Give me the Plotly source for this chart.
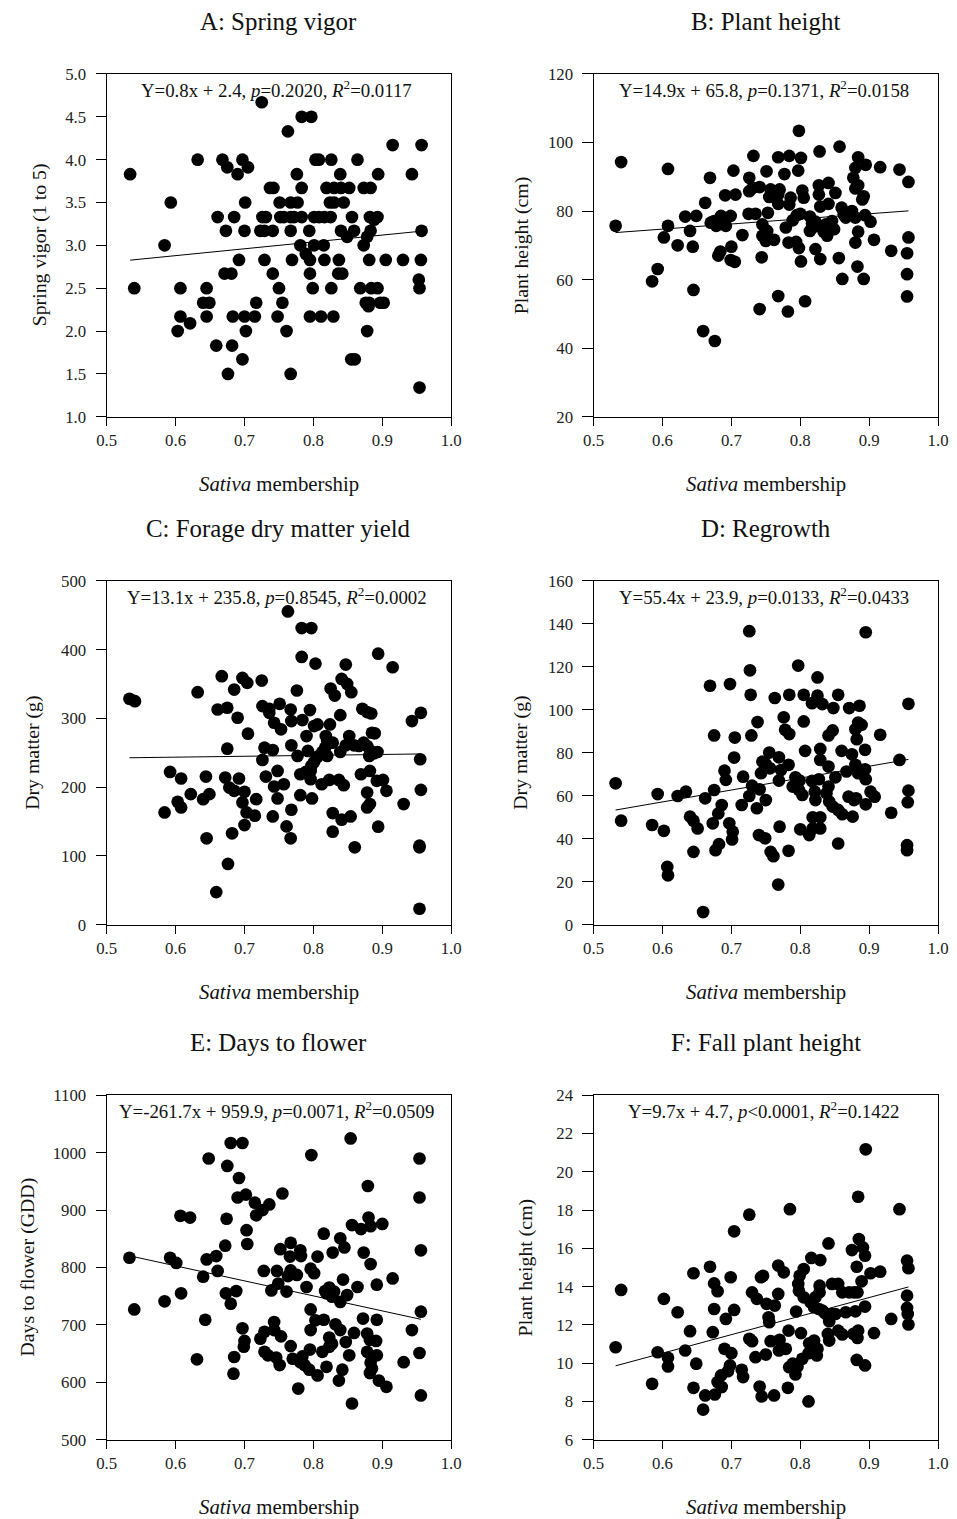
import plotly.graph_objects as go

W, H = 957, 1519
# The page is shown with an 8px body margin and the captured page is fitted to W x H.
PAGE_MARGIN = 8
SX = W / (W + 2 * PAGE_MARGIN)
SY = H / (H + 2 * PAGE_MARGIN)
FW, FH = W + PAGE_MARGIN, H + PAGE_MARGIN
SC = 1 / SX  # size compensation for fonts / markers

# ---------------- data ----------------
spring_vigor = [
    (0.725,4.67),(0.783,4.50),(0.797,4.50),(0.763,4.33),(0.915,4.17),(0.957,4.17),
    (0.632,4.00),(0.668,4.00),(0.697,4.00),(0.803,4.00),(0.808,4.00),(0.826,4.00),(0.864,4.00),
    (0.675,3.91),(0.705,3.91),
    (0.534,3.83),(0.690,3.83),(0.776,3.83),(0.839,3.83),(0.894,3.83),(0.943,3.83),
    (0.737,3.67),(0.742,3.67),(0.783,3.67),(0.819,3.67),(0.830,3.67),(0.840,3.67),(0.852,3.67),(0.873,3.67),(0.883,3.67),
    (0.593,3.50),(0.701,3.50),(0.751,3.50),(0.767,3.50),(0.777,3.50),(0.824,3.50),(0.830,3.50),(0.844,3.50),
    (0.661,3.33),(0.685,3.33),(0.726,3.33),(0.731,3.33),(0.752,3.33),(0.757,3.33),(0.767,3.33),(0.772,3.33),
    (0.783,3.33),(0.801,3.33),(0.808,3.33),(0.816,3.33),(0.825,3.33),(0.856,3.33),(0.882,3.33),(0.893,3.33),
    (0.888,3.30),
    (0.673,3.17),(0.700,3.17),(0.723,3.17),(0.729,3.17),(0.741,3.17),(0.767,3.17),(0.794,3.17),(0.840,3.17),
    (0.859,3.17),(0.883,3.17),(0.957,3.17),
    (0.849,3.10),(0.878,3.10),
    (0.584,3.00),(0.781,3.00),(0.801,3.00),(0.815,3.00),(0.873,3.00),
    (0.789,2.90),
    (0.692,2.83),(0.729,2.83),(0.769,2.83),(0.795,2.83),(0.816,2.83),(0.837,2.83),(0.881,2.83),(0.905,2.83),(0.930,2.83),(0.956,2.83),
    (0.671,2.67),(0.681,2.67),(0.741,2.67),(0.795,2.67),(0.836,2.67),(0.842,2.67),
    (0.953,2.60),
    (0.540,2.50),(0.607,2.50),(0.645,2.50),(0.750,2.50),(0.799,2.50),(0.826,2.50),(0.868,2.50),(0.884,2.50),(0.893,2.50),(0.954,2.50),
    (0.640,2.33),(0.649,2.33),(0.717,2.33),(0.755,2.33),(0.876,2.33),(0.881,2.33),(0.897,2.33),(0.902,2.33),
    (0.880,2.29),
    (0.607,2.17),(0.645,2.17),(0.683,2.17),(0.700,2.17),(0.715,2.17),(0.748,2.17),(0.795,2.17),(0.811,2.17),(0.829,2.17),
    (0.621,2.09),
    (0.603,2.00),(0.702,2.00),(0.761,2.00),(0.878,2.00),
    (0.659,1.83),(0.682,1.83),
    (0.697,1.67),(0.855,1.67),(0.860,1.67),
    (0.676,1.50),(0.767,1.50),
    (0.954,1.34),
]

plant_height = [
    (0.798,103.4),(0.540,94.3),(0.608,92.3),(0.732,96.1),(0.768,95.7),(0.784,96.1),(0.801,95.5),
    (0.828,97.4),(0.857,98.8),(0.884,95.7),(0.895,93.5),(0.916,92.8),(0.944,92.1),(0.957,88.5),
    (0.703,91.8),(0.751,91.6),(0.777,90.8),(0.797,91.8),(0.726,89.7),(0.669,89.7),(0.877,89.7),(0.880,92.6),
    (0.827,87.5),(0.841,88.2),(0.851,85.3),(0.884,87.5),(0.880,86.6),(0.892,84.3),(0.890,83.4),
    (0.726,85.8),(0.731,86.8),(0.741,87.0),(0.757,86.3),(0.770,86.3),(0.768,84.8),(0.755,84.1),(0.768,82.1),
    (0.786,83.9),(0.784,81.9),(0.803,86.0),(0.805,83.9),(0.827,84.8),(0.829,81.3),(0.841,82.1),
    (0.691,84.6),(0.706,84.8),(0.662,82.4),(0.633,78.4),(0.649,78.6),(0.532,75.7),(0.608,75.7),
    (0.640,74.2),(0.602,72.3),(0.622,70.0),(0.644,69.6),
    (0.675,77.1),(0.678,75.7),(0.685,78.6),(0.692,75.7),(0.699,78.6),(0.670,76.6),(0.681,76.6),
    (0.725,79.2),(0.735,79.2),(0.753,79.5),(0.716,73.0),
    (0.745,76.1),(0.752,74.2),(0.745,72.8),(0.750,71.3),(0.762,71.6),(0.779,75.2),(0.783,70.8),(0.794,71.0),(0.798,69.2),
    (0.789,77.3),(0.795,78.8),(0.800,79.2),(0.814,78.4),(0.817,76.4),(0.818,75.2),(0.814,74.2),
    (0.822,76.9),(0.829,75.5),(0.837,76.1),(0.834,74.0),(0.839,72.8),(0.846,77.1),(0.849,74.7),
    (0.860,81.0),(0.863,79.0),(0.872,79.2),(0.866,78.1),(0.875,80.0),(0.880,78.1),(0.894,78.8),(0.902,76.9),
    (0.884,74.0),(0.880,70.8),(0.907,71.6),(0.932,68.4),
    (0.957,72.3),(0.955,67.7),(0.955,61.6),(0.955,55.1),
    (0.700,69.6),(0.699,65.7),(0.705,65.2),(0.684,68.2),(0.681,67.0),(0.744,66.5),
    (0.822,68.9),(0.829,66.0),(0.801,65.3),(0.856,66.3),(0.861,60.2),(0.892,60.2),(0.883,63.8),
    (0.593,63.1),(0.585,59.5),(0.645,57.0),
    (0.768,55.2),(0.807,53.7),(0.741,51.4),(0.782,50.7),(0.659,45.0),(0.676,42.1),
]

forage_dm = [
    (0.763,455.6),(0.783,431.4),(0.797,431.4),(0.783,389.4),(0.803,379.7),(0.894,394.2),(0.915,374.4),
    (0.847,378.3),(0.841,357.5),(0.849,350.2),(0.855,338.2),(0.825,343.5),(0.831,333.3),
    (0.533,328.5),(0.541,325.1),(0.632,338.2),(0.667,361.4),(0.697,358.9),(0.704,351.7),(0.685,342.0),
    (0.725,355.1),(0.776,340.6),(0.661,313.0),(0.675,315.5),(0.690,301.0),(0.705,277.8),
    (0.726,317.9),(0.736,314.0),(0.736,308.2),(0.751,321.3),(0.767,313.0),(0.795,312.1),
    (0.743,293.7),(0.753,284.1),(0.768,296.1),(0.784,297.6),(0.801,288.9),(0.806,291.3),(0.790,274.4),
    (0.824,291.3),(0.839,304.8),(0.871,314.0),(0.878,309.2),(0.884,307.2),(0.852,274.4),(0.885,279.2),(0.889,278.3),
    (0.943,296.1),(0.956,308.2),
    (0.675,256.0),(0.729,257.5),(0.741,254.1),(0.726,239.6),(0.768,260.9),(0.777,245.4),(0.792,252.7),
    (0.818,274.4),(0.820,267.1),(0.828,264.7),(0.817,257.5),(0.813,251.2),(0.820,245.4),
    (0.806,244.4),(0.801,236.7),(0.797,230.9),(0.796,223.7),
    (0.839,251.2),(0.847,260.9),(0.859,260.9),(0.866,259.9),(0.873,264.7),(0.878,259.9),(0.883,252.7),
    (0.888,249.3),(0.893,251.2),(0.881,245.4),(0.955,240.6),
    (0.592,222.2),(0.608,212.6),(0.644,215.5),(0.672,214.0),(0.692,212.6),(0.731,215.5),(0.748,223.7),
    (0.781,218.8),(0.789,222.2),(0.796,211.6),(0.812,204.3),(0.823,210.6),(0.837,210.6),(0.844,202.9),
    (0.869,218.8),(0.882,223.7),(0.892,209.2),(0.901,210.6),(0.906,194.7),(0.956,196.1),
    (0.622,189.9),(0.603,178.8),(0.608,170.5),(0.584,163.3),(0.640,182.6),(0.649,189.9),
    (0.678,199.5),(0.685,194.7),(0.700,193.2),(0.697,177.8),(0.703,163.3),(0.715,158.5),(0.717,182.6),
    (0.743,201.0),(0.757,204.3),(0.748,183.6),(0.781,188.4),(0.798,183.6),(0.768,167.2),(0.741,157.5),
    (0.878,192.2),(0.878,170.5),(0.882,175.4),(0.931,175.4),(0.828,162.3),(0.841,152.7),(0.854,157.5),
    (0.700,144.9),(0.761,143.0),(0.682,132.9),(0.645,125.6),(0.767,125.6),(0.828,135.3),(0.894,142.5),
    (0.860,112.6),(0.954,115.0),(0.954,112.6),(0.676,88.4),(0.659,47.4),(0.954,23.2),
]

regrowth = [
    (0.726,136.6),(0.895,136.1),(0.727,118.4),(0.797,120.6),(0.669,111.2),(0.698,112.0),(0.728,107.0),
    (0.763,105.5),(0.784,107.0),(0.805,107.0),(0.825,115.1),(0.825,106.6),(0.817,103.1),(0.832,102.7),
    (0.855,107.0),(0.848,100.8),(0.871,100.8),(0.886,101.9),(0.957,102.8),
    (0.776,96.5),(0.738,94.3),(0.805,94.6),(0.778,90.7),(0.784,88.7),
    (0.884,94.1),(0.889,93.0),(0.880,91.0),(0.882,86.3),(0.841,88.1),(0.847,90.4),(0.916,88.4),
    (0.675,88.1),(0.729,88.1),(0.705,87.1),(0.829,81.8),(0.807,80.9),(0.860,80.9),(0.875,79.3),(0.894,81.4),
    (0.704,77.8),(0.755,80.1),(0.745,75.9),(0.750,74.7),(0.756,72.8),(0.743,70.5),
    (0.769,77.9),(0.772,72.0),(0.783,74.4),(0.769,67.1),(0.829,76.7),(0.841,73.6),
    (0.867,71.3),(0.880,74.4),(0.883,72.0),(0.894,72.3),(0.895,67.7),(0.884,70.5),(0.944,76.7),
    (0.690,71.7),(0.692,67.4),(0.717,68.9),(0.730,64.7),(0.741,63.0),(0.726,59.9),
    (0.793,68.6),(0.799,67.1),(0.789,64.3),(0.798,62.7),(0.803,60.4),(0.817,66.9),(0.827,67.7),
    (0.821,61.9),(0.822,58.0),(0.851,68.6),(0.841,64.3),(0.838,61.2),(0.842,57.3),(0.847,55.0),(0.855,53.4),
    (0.861,51.4),(0.870,59.6),(0.878,58.0),(0.881,58.8),(0.876,50.3),(0.895,56.0),(0.902,61.9),(0.908,59.6),
    (0.932,52.1),(0.957,62.4),(0.956,57.0),
    (0.532,65.8),(0.593,60.8),(0.622,59.9),(0.634,61.9),(0.662,58.8),(0.675,62.7),(0.715,55.7),
    (0.686,55.7),(0.681,51.8),(0.673,47.2),(0.697,47.2),(0.702,43.3),(0.701,39.7),(0.750,58.0),(0.737,54.2),
    (0.640,50.3),(0.645,48.4),(0.651,44.8),(0.540,48.4),(0.585,46.4),(0.602,43.7),(0.770,45.6),
    (0.800,44.4),(0.813,41.7),(0.818,44.8),(0.829,44.8),(0.818,50.0),(0.829,50.0),
    (0.740,41.7),(0.749,40.2),(0.682,37.5),(0.677,34.7),(0.645,33.9),(0.757,33.9),(0.761,31.9),(0.783,34.4),
    (0.855,37.8),(0.955,37.0),(0.955,34.7),(0.607,26.9),(0.608,23.0),(0.768,18.7),(0.659,5.9),
]

days_flower = [
    (0.854,1025),(0.680,1017),(0.697,1017),(0.648,990),(0.797,996),(0.954,990),(0.675,977),(0.692,956),
    (0.879,942),(0.954,922),(0.690,922),(0.702,927),(0.715,913),(0.755,929),(0.717,891),(0.726,900),(0.736,910),
    (0.607,890),(0.621,887),(0.674,885),(0.703,865),(0.704,841),(0.672,838),(0.659,820),(0.645,814),
    (0.592,817),(0.601,808),(0.533,817),(0.640,784),(0.661,794),
    (0.752,832),(0.767,843),(0.766,819),(0.781,830),(0.782,820),(0.806,819),(0.815,859),(0.828,826),
    (0.839,851),(0.845,835),(0.856,874),(0.869,867),(0.880,887),(0.883,872),(0.900,876),(0.873,826),(0.883,806),
    (0.956,830),(0.728,794),(0.747,794),(0.763,785),(0.767,795),(0.776,787),(0.796,798),(0.801,790),
    (0.749,772),(0.739,760),(0.761,758),(0.790,766),(0.817,759),(0.823,765),(0.830,758),(0.827,749),(0.819,755),
    (0.839,740),(0.849,752),(0.843,779),(0.864,766),(0.892,770),(0.915,781),
    (0.673,755),(0.688,759),(0.680,737),(0.608,755),(0.584,741),(0.540,727),(0.643,709),
    (0.796,727),(0.803,708),(0.815,709),(0.796,691),(0.832,701),(0.839,691),(0.847,670),(0.859,686),
    (0.872,711),(0.892,709),(0.878,685),(0.882,674),(0.891,672),(0.956,723),(0.943,691),
    (0.743,705),(0.729,688),(0.723,676),(0.743,691),(0.753,680),(0.697,694),(0.700,672),(0.699,662),
    (0.823,678),(0.827,667),(0.813,653),(0.823,662),(0.767,663),
    (0.795,657),(0.784,645),(0.781,635),(0.787,630),(0.794,622),(0.770,641),
    (0.729,653),(0.734,647),(0.746,643),(0.751,630),(0.852,647),
    (0.878,653),(0.892,647),(0.883,634),(0.885,624),(0.882,616),
    (0.685,644),(0.631,640),(0.684,615),(0.806,612),(0.819,627),(0.842,622),(0.837,603),
    (0.895,603),(0.906,592),(0.931,635),(0.954,651),(0.778,589),(0.956,577),(0.856,563),
]

fall_height = [
    (0.895,21.18),(0.884,18.70),(0.785,18.05),(0.944,18.05),(0.726,17.76),(0.704,16.89),(0.841,16.26),
    (0.885,16.49),(0.891,16.05),(0.894,15.62),(0.875,15.91),(0.816,15.50),(0.829,15.39),(0.955,15.36),(0.957,14.96),
    (0.768,15.10),(0.776,14.75),(0.669,15.04),(0.645,14.70),(0.699,14.49),(0.743,14.49),(0.746,14.57),
    (0.805,14.92),(0.799,14.57),(0.882,15.04),(0.902,14.70),(0.916,14.78),(0.889,14.28),
    (0.540,13.83),(0.675,14.17),(0.680,13.76),(0.797,14.14),(0.798,13.79),(0.828,14.05),(0.846,14.14),(0.855,14.14),
    (0.861,13.70),(0.871,13.70),(0.878,13.70),(0.883,13.70),(0.602,13.36),(0.730,13.70),(0.737,13.36),(0.751,13.10),
    (0.768,13.62),(0.805,13.44),(0.815,13.18),(0.822,13.44),(0.828,13.70),(0.955,13.53),
    (0.622,12.66),(0.675,12.83),(0.704,12.78),(0.692,12.31),(0.763,13.01),(0.754,12.40),(0.755,12.14),(0.794,12.70),
    (0.820,12.92),(0.827,12.83),(0.832,12.75),(0.836,12.61),(0.840,12.49),(0.846,12.57),(0.851,12.57),(0.842,12.19),
    (0.866,12.66),(0.880,12.71),(0.894,12.96),(0.932,12.31),(0.955,12.89),(0.956,12.57),(0.957,12.02),
    (0.640,11.67),(0.673,11.62),(0.783,11.70),(0.801,11.57),(0.840,11.53),(0.842,11.18),(0.855,11.70),(0.861,11.50),
    (0.877,11.53),(0.884,11.70),(0.883,11.32),(0.907,11.57),
    (0.532,10.83),(0.593,10.57),(0.608,10.28),(0.608,9.83),(0.633,10.66),(0.649,9.97),
    (0.690,10.75),(0.700,10.52),(0.698,9.88),(0.695,9.58),(0.726,11.27),(0.730,11.15),(0.735,10.31),(0.750,10.45),
    (0.757,11.15),(0.770,11.22),(0.769,10.66),(0.779,10.75),
    (0.813,11.04),(0.820,11.18),(0.825,10.75),(0.824,10.40),(0.812,10.52),
    (0.803,10.23),(0.796,9.83),(0.789,9.97),(0.784,9.79),(0.793,9.41),(0.882,10.17),(0.894,9.88),
    (0.715,9.65),(0.717,9.27),(0.685,9.36),(0.680,9.01),(0.686,8.75),(0.585,8.92),(0.645,8.71),
    (0.662,8.31),(0.676,8.36),(0.741,8.78),(0.744,8.26),(0.762,8.31),(0.782,8.71),(0.812,8.00),(0.659,7.57),
]

panel_titles = ["A: Spring vigor", "B: Plant height", "C: Forage dry matter yield",
                "D: Regrowth", "E: Days to flower", "F: Fall plant height"]
y_titles = ["Spring vigor (1 to 5)", "Plant height (cm)", "Dry matter (g)",
            "Dry matter (g)", "Days to flower (GDD)", "Plant height (cm)"]
equations = [
    "Y=0.8x + 2.4, <i>p</i>=0.2020, <i>R</i><sup>2</sup>=0.0117",
    "Y=14.9x + 65.8, <i>p</i>=0.1371, <i>R</i><sup>2</sup>=0.0158",
    "Y=13.1x + 235.8, <i>p</i>=0.8545, <i>R</i><sup>2</sup>=0.0002",
    "Y=55.4x + 23.9, <i>p</i>=0.0133, <i>R</i><sup>2</sup>=0.0433",
    "Y=-261.7x + 959.9, <i>p</i>=0.0071, <i>R</i><sup>2</sup>=0.0509",
    "Y=9.7x + 4.7, <i>p</i>&lt;0.0001, <i>R</i><sup>2</sup>=0.1422",
]
slopes = [0.8, 14.9, 13.1, 55.4, -261.7, 9.7]
intercepts = [2.4, 65.8, 235.8, 23.9, 959.9, 4.7]
y_ranges = [(1, 5), (20, 120), (0, 500), (0, 160), (500, 1100), (6, 24)]
y_dticks = [0.5, 20, 100, 20, 100, 2]
y_formats = [".1f", "d", "d", "d", "d", "d"]
x_ticks = [0.5, 0.6, 0.7, 0.8, 0.9, 1.0]
x_title = "<i>Sativa</i> membership"

datasets = [spring_vigor, plant_height, forage_dm, regrowth, days_flower, fall_height]

# ---------------- layout geometry (target picture pixels) ----------------
col_x = [(105, 451), (594, 940)]
row_y = [(73, 416.5), (581, 925.5), (1096.5, 1441.5)]
y_title_x = [37, 521, 31, 521, 25, 526]

FONT = "Liberation Serif"

def px(x):
    return (x / SX - PAGE_MARGIN) / FW

def py(y):
    return 1 - (y / SY - PAGE_MARGIN) / FH

fig = go.Figure()
annotations = []
layout_axes = {}

for i, data in enumerate(datasets):
    r, c = divmod(i, 2)
    n = i + 1
    xa = "x" if n == 1 else f"x{n}"
    ya = "y" if n == 1 else f"y{n}"
    xs = [p[0] for p in data]
    ys = [p[1] for p in data]
    fig.add_trace(go.Scatter(x=xs, y=ys, mode="markers", xaxis=xa, yaxis=ya,
                             marker=dict(color="black", size=12.5 * SC, line=dict(width=0)),
                             showlegend=False, hoverinfo="x+y"))
    x0, x1 = min(xs), max(xs)
    fig.add_trace(go.Scatter(x=[x0, x1],
                             y=[slopes[i] * x0 + intercepts[i], slopes[i] * x1 + intercepts[i]],
                             mode="lines", xaxis=xa, yaxis=ya,
                             line=dict(color="black", width=1), showlegend=False, hoverinfo="skip"))
    (L, R), (T, B) = col_x[c], row_y[r]
    common = dict(showline=True, linecolor="black", linewidth=1, mirror=True,
                  ticks="outside", tickwidth=1, tickcolor="black",
                  showgrid=False, zeroline=False,
                  tickfont=dict(family=FONT, size=16.5 * SC, color="#222"))
    layout_axes["xaxis" if n == 1 else f"xaxis{n}"] = dict(
        domain=[px(L), px(R)], anchor=ya, range=[0.5, 1.0], ticklen=8 * SC,
        tickvals=x_ticks, tickformat=".1f", **common)
    lo, hi = y_ranges[i]
    layout_axes["yaxis" if n == 1 else f"yaxis{n}"] = dict(
        domain=[py(B), py(T)], anchor=xa, range=[lo, hi], ticklen=10 * SC,
        ticklabelstandoff=6,
        dtick=y_dticks[i], tick0=lo, tickformat=y_formats[i], **common)

    cx = (L + R) / 2
    annotations.append(dict(text=panel_titles[i], x=px(cx), y=py(T - 53), xref="paper", yref="paper",
                            xanchor="center", yanchor="middle", showarrow=False,
                            font=dict(family=FONT, size=24.5 * SC, color="#111")))
    annotations.append(dict(text=equations[i], x=px(cx - 2), y=py(T + 15), xref="paper", yref="paper",
                            xanchor="center", yanchor="middle", showarrow=False,
                            font=dict(family=FONT, size=18.5 * SC, color="#111")))
    annotations.append(dict(text=x_title, x=px(cx), y=py(B + 67), xref="paper", yref="paper",
                            xanchor="center", yanchor="middle", showarrow=False,
                            font=dict(family=FONT, size=20.5 * SC, color="#111")))
    annotations.append(dict(text=y_titles[i], x=px(y_title_x[i]), y=py((T + B) / 2), xref="paper", yref="paper",
                            xanchor="center", yanchor="middle", showarrow=False, textangle=-90,
                            font=dict(family=FONT, size=19.5 * SC, color="#111")))

fig.update_layout(width=FW, height=FH, margin=dict(l=0, r=0, t=0, b=0),
                  paper_bgcolor="white", plot_bgcolor="white",
                  annotations=annotations, **layout_axes)

fig.write_html("out.html")
